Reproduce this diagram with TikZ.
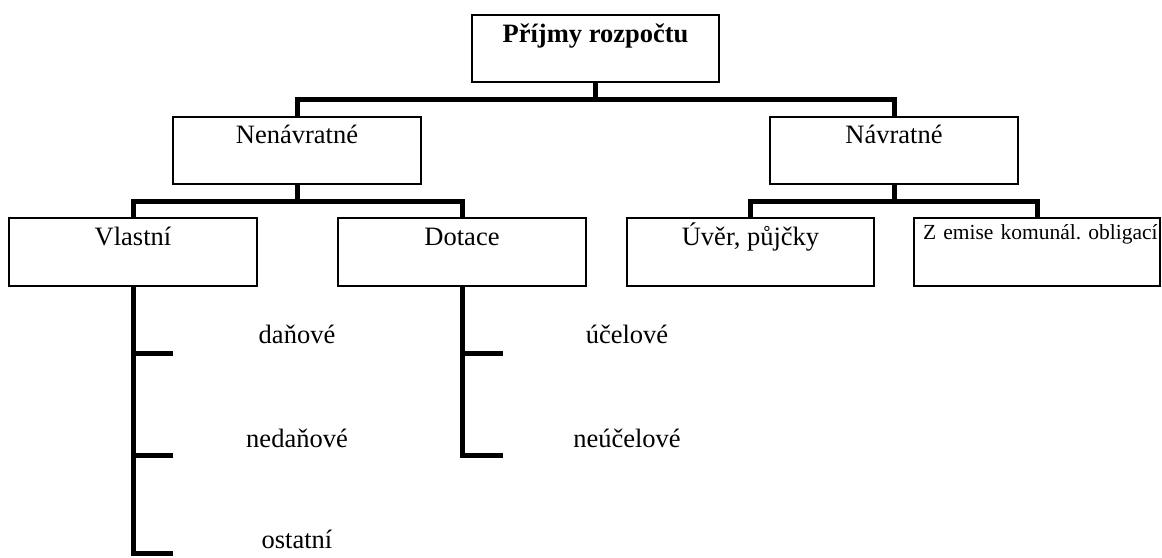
\documentclass[tikz,border=0pt]{standalone}
\usepackage{fontspec}
\setmainfont{Liberation Serif}
\frenchspacing
\begin{document}
\begin{tikzpicture}[x=0.5pt,y=-0.5pt,
  box/.style={draw,line width=0.75pt,inner sep=0pt,outer sep=0pt,align=center,
    minimum width=124pt,font=\fontsize{13.25}{15}\selectfont},
  upbox/.style={box,text height=13pt,text depth=20.5pt},
  lowbox/.style={box,text height=13.5pt,text depth=20.5pt},
  lbl/.style={inner sep=0pt,anchor=base,font=\fontsize{13.25}{15}\selectfont},
  conn/.style={line width=2.5pt,line join=miter}]
\useasboundingbox (0,0) rectangle (1162,557);
% boxes
\node[box,minimum width=123.5pt,text height=13.5pt,text depth=20pt,
  font=\fontsize{13.25}{15}\selectfont\bfseries] (top) at (595.5,48.5) {Příjmy rozpočtu};
\node[upbox] (nen) at (297,150.5) {Nenávratné};
\node[upbox] (nav) at (894,150.5) {Návratné};
\node[lowbox] (vl) at (133,252) {Vlastní};
\node[lowbox] (dot) at (462,252) {Dotace};
\node[lowbox,minimum width=123.5pt] (uv) at (750.5,252) {Úvěr, půjčky};
\node[box,text width=114pt,inner xsep=4.5pt,align=left,minimum width=123pt,
  text height=10.5pt,text depth=23.5pt,font=\fontsize{10.75}{12}\selectfont] (em) at (1037,252) {\mbox{Z emise komunál.\ obligací}};
% bus levels and tick ends
\coordinate (b1) at (0,99.5);
\coordinate (b2) at (0,201);
\coordinate (t1) at (173,353);
\coordinate (t2) at (173,455);
\coordinate (t3) at (173,553.5);
\coordinate (u1) at (503,353);
\coordinate (u2) at (503,455);
% connectors
\draw[conn] (top.south) -- (top.south |- b1);
\draw[conn] (nen.north) -- (nen.north |- b1) -- (nav.north |- b1) -- (nav.north);
\draw[conn] (nen.south) -- (nen.south |- b2);
\draw[conn] (vl.north) -- (vl.north |- b2) -- (dot.north |- b2) -- (dot.north);
\draw[conn] (nav.south) -- (nav.south |- b2);
\draw[conn] (uv.north) -- (uv.north |- b2) -- (em.north |- b2) -- (em.north);
\draw[conn] (vl.south) |- (t3);
\draw[conn] (vl.south |- t1) -- (t1);
\draw[conn] (vl.south |- t2) -- (t2);
\draw[conn] (dot.south) |- (u2);
\draw[conn] (dot.south |- u1) -- (u1);
% labels
\node[lbl] (dan) at (297,343) {daňové};
\node[lbl] (ned) at (297,447) {nedaňové};
\node[lbl] (ost) at (297,548) {ostatní};
\node[lbl] (uce) at (627,343) {účelové};
\node[lbl] (neu) at (627,447) {neúčelové};
\end{tikzpicture}
\end{document}
